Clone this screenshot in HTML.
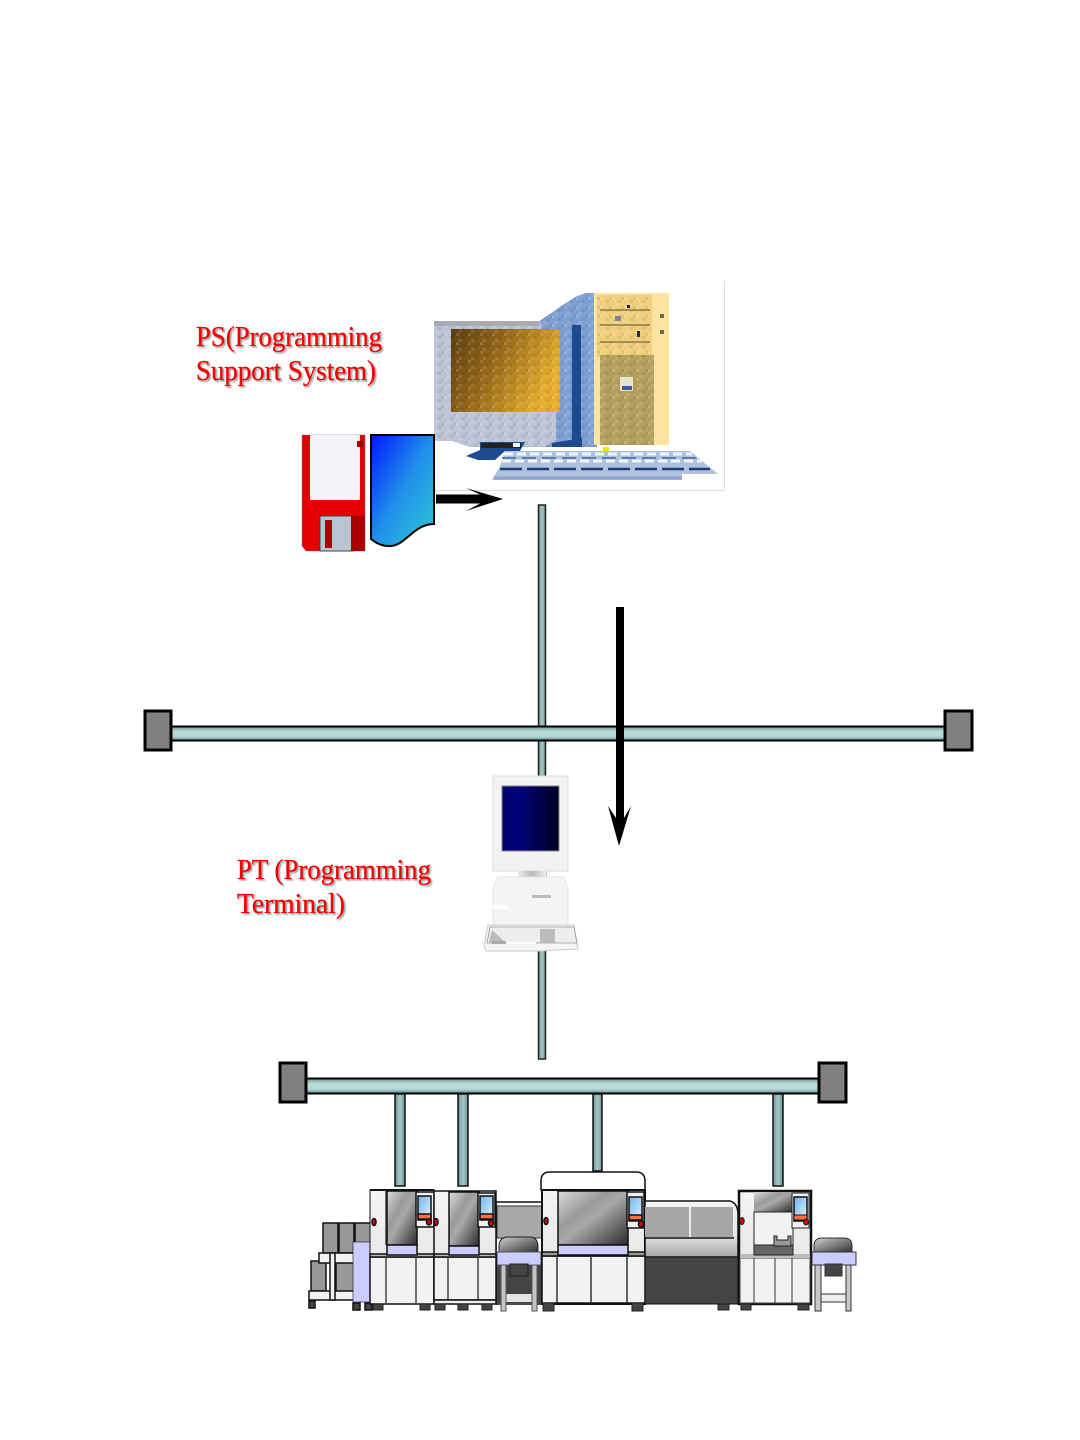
<!DOCTYPE html>
<html><head><meta charset="utf-8"><style>
html,body{margin:0;padding:0;background:#fff}
svg{display:block}
text{font-family:"Liberation Serif","Noto Serif CJK SC",serif;font-size:29px;fill:#f00000;stroke:#f00000;stroke-width:.35px;filter:url(#sh)}
</style></head><body>
<svg xmlns="http://www.w3.org/2000/svg" width="1080" height="1440" viewBox="0 0 1080 1440">
<defs>
<filter id="sh" x="-5%" y="-20%" width="110%" height="150%"><feDropShadow dx="1.500" dy="1.500" stdDeviation="0.7" flood-color="#999"/></filter>
<linearGradient id="hb" x1="0" y1="0" x2="0" y2="1"><stop offset="0" stop-color="#6f9191"/><stop offset=".35" stop-color="#b8dcdc"/><stop offset=".7" stop-color="#b4d8d8"/><stop offset="1" stop-color="#6d9090"/></linearGradient>
<linearGradient id="vb" x1="0" y1="0" x2="1" y2="0"><stop offset="0" stop-color="#6f9393"/><stop offset=".5" stop-color="#a5caca"/><stop offset="1" stop-color="#70908f"/></linearGradient>
<linearGradient id="doc" x1="0" y1="0" x2="1" y2="1"><stop offset="0" stop-color="#0018ff"/><stop offset=".5" stop-color="#2190ea"/><stop offset="1" stop-color="#2cc8d4"/></linearGradient>
<linearGradient id="scr" x1="0" y1="0" x2="1" y2=".4"><stop offset="0" stop-color="#5b3f12"/><stop offset=".45" stop-color="#94671a"/><stop offset="1" stop-color="#e5ae2e"/></linearGradient>
<linearGradient id="scrb" x1="0" y1="0" x2="1" y2="0"><stop offset="0" stop-color="#02026f"/><stop offset=".3" stop-color="#02027a"/><stop offset="1" stop-color="#000022"/></linearGradient>
<linearGradient id="win" x1="0" y1="0" x2="1" y2="1"><stop offset="0" stop-color="#dcdcdc"/><stop offset=".35" stop-color="#9a9a9a"/><stop offset=".5" stop-color="#a8a8a8"/><stop offset="1" stop-color="#2a2a2a"/></linearGradient>
<linearGradient id="side" x1="0" y1="0" x2="0" y2="1"><stop offset="0" stop-color="#f4f4f4"/><stop offset=".6" stop-color="#e8e8e8"/><stop offset="1" stop-color="#a4a4a4"/></linearGradient>
<linearGradient id="lcd" x1="0" y1="0" x2="1" y2="1"><stop offset="0" stop-color="#6cb4f0"/><stop offset="1" stop-color="#e8f4ff"/></linearGradient>
<linearGradient id="dome" x1="0" y1="0" x2="1" y2="1"><stop offset="0" stop-color="#d0d0d0"/><stop offset="1" stop-color="#303030"/></linearGradient>
<linearGradient id="neck" x1="0" y1="0" x2="1" y2="0"><stop offset="0" stop-color="#e8e8e8"/><stop offset=".5" stop-color="#bbb"/><stop offset="1" stop-color="#eee"/></linearGradient>
<pattern id="dith" width="12" height="9" patternUnits="userSpaceOnUse"><rect width="3" height="3" fill="#fff" opacity=".14"/><rect x="6" y="3" width="3" height="3" fill="#000" opacity=".08"/><rect x="3" y="6" width="3" height="3" fill="#fff" opacity=".12"/><rect x="9" y="0" width="3" height="3" fill="#000" opacity=".06"/></pattern>
</defs>

<!-- PC image frame -->
<path d="M724.500 281V490.500H432" fill="none" stroke="#ddd" stroke-width="1"/>
<!-- tower -->
<path d="M538 322 545 317 553 312 561 306 569 301 577 296 586 293H597V447H540Z" fill="#7d9fd2"/>
<path d="M538 322 545 317 553 312 561 306 569 301 577 296 586 293H597V447H540Z" fill="url(#dith)"/>
<rect x="572" y="325" width="9" height="120" fill="#1d4a90"/>
<path d="M552 443 582 438V447H552Z" fill="#1d4a90"/>
<rect x="594" y="293" width="75" height="152" fill="#fbe3a0"/>
<rect x="597" y="295" width="55" height="62" fill="#f0cf7c"/>
<rect x="597" y="295" width="55" height="62" fill="url(#dith)"/>
<path d="M600 310H650M600 325H650M600 342H650" stroke="#a68d58" stroke-width="2"/>
<rect x="627" y="305" width="3" height="3" fill="#222"/><rect x="637" y="331" width="3" height="6" fill="#1c2e5e"/><rect x="615" y="316" width="6" height="5" fill="#7c84a0"/>
<rect x="600" y="355" width="54" height="90" fill="#b59f5d"/>
<rect x="600" y="355" width="54" height="90" fill="url(#dith)"/>
<rect x="620" y="377" width="13" height="14" fill="#e8e4d0"/><rect x="622" y="386" width="10" height="4" fill="#3c5a96"/>
<rect x="660" y="314" width="4" height="4" fill="#6d6d50"/><rect x="660" y="330" width="4" height="4" fill="#6d6d50"/>
<!-- monitor -->
<path d="M434 321H540L556 412 556 440 545 447H470L452 441H434Z" fill="#bcc4d6"/>
<path d="M434 321H540L556 412 556 440 545 447H470L452 441H434Z" fill="url(#dith)"/>
<rect x="434" y="321" width="105" height="5" fill="#a8abb4"/>
<rect x="451" y="329" width="109" height="83" fill="url(#scr)"/>
<rect x="451" y="329" width="109" height="83" fill="url(#dith)"/>
<path d="M480 442H525L520 451H505L495 460H478L466 456L480 450Z" fill="#1d4a90"/>
<rect x="481" y="443" width="40" height="5" fill="#222"/><rect x="513" y="443" width="7" height="4" fill="#fff"/>
<!-- keyboard -->
<path d="M505 451H690L718 474H682V480H492L500 466Z" fill="#aec2df"/>
<path d="M504 454H692M502 461H702" stroke="#f2f5fb" stroke-width="3" stroke-dasharray="9 4"/>
<path d="M502 458H698" stroke="#5f7eb0" stroke-width="2" stroke-dasharray="14 6"/>
<path d="M500 469H710" stroke="#1f3c78" stroke-width="2.500" stroke-dasharray="22 5"/>
<path d="M494 478H682" stroke="#8ea6cc" stroke-width="3"/>
<rect x="603" y="447" width="6" height="4" fill="#f2e800"/>
<!-- floppy -->
<path d="M302 435H365V551H306L302 546Z" fill="#e40000" stroke="#777" stroke-width=".5"/>
<rect x="310" y="435" width="50" height="65" rx="1" fill="#f1f3f7"/>
<rect x="357" y="441" width="6" height="6" fill="#900"/>
<rect x="320" y="516" width="33" height="35" fill="#b8c4d2" stroke="#444" stroke-width="1"/>
<rect x="351" y="516" width="14" height="35" fill="#a80000"/>
<rect x="325" y="520" width="7" height="28" fill="#b00000"/>
<!-- document -->
<path d="M371 435H434V524C413 524 405 547 389 546C380 546 375 542 371 539Z" fill="url(#doc)" stroke="#000" stroke-width="2"/>
<!-- right arrow -->
<path d="M436 494.500H480L466 488 503 499 466 511 480 503.500H436Z" fill="#000"/>
<!-- main vertical bus -->
<rect x="538.500" y="505" width="7" height="554" fill="url(#vb)" stroke="#222" stroke-width="1.500"/>
<!-- top bus -->
<rect x="171" y="726.500" width="774" height="14" fill="url(#hb)" stroke="#000" stroke-width="2"/>
<rect x="145" y="711" width="26" height="39" fill="#808080" stroke="#000" stroke-width="3"/>
<rect x="945" y="711" width="27" height="39" fill="#808080" stroke="#000" stroke-width="3"/>
<!-- down arrow -->
<path d="M616 607H624V818L631 806 619 846 608 806 616 818Z" fill="#000"/>
<!-- PT computer -->
<rect x="493" y="776" width="75" height="95" fill="#f2f2f2" stroke="#ddd"/>
<rect x="502" y="786" width="57" height="65" fill="url(#scrb)" stroke="#888"/>
<rect x="518" y="871" width="28" height="6" fill="url(#neck)"/>
<path d="M498 877H563L568 888V925H493V888Z" fill="#f4f4f4" stroke="#e2e2e2"/>
<rect x="532" y="895" width="19" height="3" fill="#bbb"/>
<path d="M493 905H505L511 909H493Z" fill="#fff"/>
<path d="M488 925H574L578 949 540 951H486L484 945Z" fill="#f4f4f4" stroke="#ccc"/>
<path d="M490 927H574L577 943H487Z" fill="#eee" stroke="#999" stroke-width=".8"/>
<path d="M489 942 492 930 506 943Z" fill="#bbb"/><rect x="540" y="929" width="15" height="14" fill="#bbb"/><rect x="492" y="941" width="14" height="3" fill="#aaa"/><rect x="506" y="942" width="30" height="2" fill="#fff"/>
<!-- lower bus -->
<rect x="306" y="1078.500" width="513" height="15" fill="url(#hb)" stroke="#000" stroke-width="2"/>
<rect x="280" y="1063" width="26" height="39" fill="#808080" stroke="#000" stroke-width="3"/>
<rect x="819" y="1063" width="27" height="39" fill="#808080" stroke="#000" stroke-width="3"/>
<!-- drops -->
<rect x="395" y="1094" width="10" height="92" fill="url(#vb)" stroke="#111" stroke-width="1.500"/>
<rect x="458" y="1094" width="10" height="92" fill="url(#vb)" stroke="#111" stroke-width="1.500"/>
<rect x="593" y="1094" width="9" height="77" fill="url(#vb)" stroke="#111" stroke-width="1.500"/>
<rect x="773" y="1094" width="10" height="92" fill="url(#vb)" stroke="#111" stroke-width="1.500"/>

<!-- left feeder -->
<g stroke="#111" stroke-width="1.500">
<rect x="323" y="1223" width="15" height="30" fill="#989898"/><rect x="339" y="1223" width="15" height="30" fill="#989898"/><rect x="355" y="1223" width="16" height="20" fill="#989898"/>
<rect x="311" y="1261" width="15" height="30" fill="#989898"/><rect x="336" y="1262" width="18" height="30" fill="#989898"/>
<rect x="319" y="1253" width="35" height="10" fill="#f2f2f2"/>
<rect x="309" y="1291" width="45" height="9" fill="#f2f2f2"/>
<rect x="330" y="1253" width="5" height="47" fill="#f2f2f2"/>
<rect x="353" y="1242" width="18" height="60" fill="#ccccff" stroke-width=".6"/>
<rect x="309" y="1301" width="6" height="7" fill="#444"/><rect x="353" y="1303" width="7" height="7" fill="#444"/><rect x="365" y="1303" width="7" height="7" fill="#444"/>
</g>

<!-- middle table background -->
<rect x="496" y="1202" width="46" height="102" fill="#fff" stroke="#111" stroke-width="1.500"/>
<rect x="497" y="1206" width="45" height="32" fill="#a8a8a8" stroke="#333"/>
<rect x="496" y="1265" width="46" height="38" fill="#444"/>
<rect x="506" y="1294" width="26" height="8" fill="#e4e4e4"/>
<path d="M499 1252V1245Q500 1237 508 1237H530Q537 1237 538 1245V1252Z" fill="url(#dome)" stroke="#222"/>
<rect x="497" y="1252" width="44" height="13" fill="#ccccff" stroke="#555"/>
<rect x="510" y="1264" width="18" height="12" fill="#444" stroke="#222"/>
<rect x="501" y="1265" width="5" height="46" fill="#c4c4c4" stroke="#555"/><rect x="532" y="1265" width="5" height="46" fill="#c4c4c4" stroke="#555"/>

<!-- machine 1 -->
<g stroke="#111" stroke-width="1.500">
<rect x="370" y="1190" width="64" height="114" fill="url(#side)" stroke-width="1"/>
<path d="M370 1190H434" stroke-width="2"/>
<rect x="370" y="1257" width="64" height="47" fill="#f2f2f2"/>
<rect x="370" y="1254" width="64" height="3" fill="#bbb"/>
<path d="M386 1257V1304M416 1257V1304M386 1190V1245" fill="none" stroke="#444"/>
<rect x="387" y="1191" width="30" height="54" fill="url(#win)"/>
<rect x="387" y="1245" width="30" height="10" fill="#ccccff"/>
<rect x="416" y="1192" width="18" height="35" fill="#f0f0f0"/>
<rect x="418" y="1196" width="13" height="24" fill="url(#lcd)" stroke-width="1.500"/>
<rect x="418" y="1214" width="13" height="5" fill="#ff7040"/>
<ellipse cx="374" cy="1222" rx="2" ry="3.500" fill="#e00000"/><ellipse cx="429" cy="1222" rx="2.500" ry="3" fill="#e00000"/>
</g>
<!-- machine 2 -->
<g stroke="#111" stroke-width="1.500">
<rect x="434" y="1191" width="62" height="109" fill="url(#side)" stroke-width="1.500"/>
<rect x="434" y="1257" width="62" height="43" fill="#f2f2f2"/>
<rect x="434" y="1254" width="62" height="3" fill="#bbb"/>
<path d="M448 1257V1300M478 1257V1300" fill="none" stroke="#444"/>
<rect x="449" y="1192" width="30" height="54" fill="url(#win)"/>
<rect x="449" y="1246" width="30" height="9" fill="#ccccff"/>
<rect x="478" y="1193" width="17" height="34" fill="#f0f0f0"/>
<rect x="480" y="1196" width="13" height="24" fill="url(#lcd)" stroke-width="1.500"/>
<rect x="480" y="1214" width="13" height="5" fill="#ff7040"/>
<ellipse cx="436" cy="1222" rx="2" ry="3.500" fill="#e00000"/><ellipse cx="491" cy="1223" rx="2.500" ry="3" fill="#e00000"/>
<rect x="434" y="1300" width="62" height="4" fill="#eee"/>
</g>
<!-- machine 3 -->
<g stroke="#111" stroke-width="1.500">
<path d="M541 1190V1181Q541 1172 550 1172H636Q645 1172 645 1181V1190Z" fill="#fff" stroke-width="1.500"/>
<rect x="542" y="1190" width="103" height="114" fill="url(#side)" stroke-width="2"/>
<rect x="542" y="1256" width="103" height="47" fill="#f2f2f2"/>
<rect x="542" y="1252" width="103" height="4" fill="#999"/>
<path d="M557 1256V1303M591 1256V1303M627 1256V1303" fill="none" stroke="#333"/>
<rect x="558" y="1191" width="70" height="54" fill="url(#win)"/>
<rect x="558" y="1245" width="70" height="10" fill="#ccccff"/>
<rect x="627" y="1192" width="17" height="36" fill="#f0f0f0"/>
<rect x="629" y="1197" width="13" height="24" fill="url(#lcd)" stroke-width="1.500"/>
<rect x="629" y="1215" width="13" height="5" fill="#ff7040"/>
<ellipse cx="546" cy="1221" rx="2" ry="3.500" fill="#e00000"/><ellipse cx="641" cy="1224" rx="2.500" ry="3" fill="#e00000"/>
</g>
<!-- conveyor -->
<g stroke="#111">
<path d="M645 1201H730Q738 1203 738 1215V1257H645Z" fill="url(#side)" stroke-width="1.500"/>
<rect x="645" y="1257" width="93" height="47" fill="#444"/>
<rect x="645" y="1207" width="44" height="30" fill="#a6a6a6" stroke="none"/>
<rect x="691" y="1207" width="42" height="30" fill="#a6a6a6" stroke="none"/>
<path d="M645 1238H734" stroke-width="1.500"/>
</g>
<!-- machine 4 -->
<g stroke="#111">
<rect x="739" y="1191" width="72" height="113" fill="url(#side)" stroke-width="2.500"/>
<rect x="740" y="1258" width="70" height="45" fill="#f2f2f2" stroke="#444"/>
<rect x="740" y="1254" width="70" height="4" fill="#bbb" stroke="none"/>
<path d="M754 1258V1303M775 1258V1303M792 1258V1303" stroke="#555" stroke-width="1.200"/>
<rect x="754" y="1192" width="39" height="20" fill="url(#win)" stroke="none"/>
<rect x="754" y="1212" width="39" height="34" fill="#f2f2f2" stroke="#222"/>
<rect x="754" y="1245" width="39" height="10" fill="#666" stroke="#222"/>
<path d="M774 1236V1246H791V1236H788V1240H777V1236Z" fill="#999" stroke="#222"/>
<rect x="792" y="1193" width="17" height="35" fill="#f0f0f0" stroke="#222"/>
<rect x="794" y="1197" width="13" height="24" fill="url(#lcd)" stroke-width="1.500"/>
<rect x="794" y="1215" width="13" height="5" fill="#ff7040"/>
<ellipse cx="742" cy="1221" rx="2.200" ry="3.500" fill="#e00000" stroke="#222"/><ellipse cx="806" cy="1222" rx="2.500" ry="3" fill="#e00000" stroke="#222"/>
</g>
<!-- right table -->
<g stroke="#333">
<path d="M814 1252V1246Q814 1238 822 1238H844Q852 1238 852 1246V1252Z" fill="url(#dome)"/>
<rect x="812" y="1252" width="44" height="13" fill="#ccccff"/>
<rect x="825" y="1264" width="17" height="12" fill="#444"/>
<rect x="815" y="1265" width="6" height="46" fill="#c8c8c8"/><rect x="846" y="1265" width="5" height="46" fill="#c8c8c8"/>
<rect x="821" y="1294" width="25" height="8" fill="#eee"/>
</g>
<!-- feet -->
<g fill="#444" stroke="#222">
<rect x="373" y="1304" width="10" height="6"/><rect x="420" y="1304" width="10" height="6"/><rect x="435" y="1304" width="10" height="6"/><rect x="458" y="1304" width="10" height="6"/><rect x="482" y="1304" width="10" height="6"/>
<rect x="543" y="1303" width="11" height="8"/><rect x="632" y="1303" width="11" height="8"/><rect x="718" y="1304" width="11" height="6"/><rect x="741" y="1304" width="10" height="6"/><rect x="798" y="1304" width="11" height="6"/>
</g>

<text x="196" y="346" textLength="186" lengthAdjust="spacingAndGlyphs">PS(Programming</text>
<text x="196" y="380" textLength="180" lengthAdjust="spacingAndGlyphs">Support System)</text>
<text x="237" y="879" textLength="194" lengthAdjust="spacingAndGlyphs">PT (Programming</text>
<text x="237" y="913" textLength="108" lengthAdjust="spacingAndGlyphs">Terminal)</text>
</svg>
</body></html>
